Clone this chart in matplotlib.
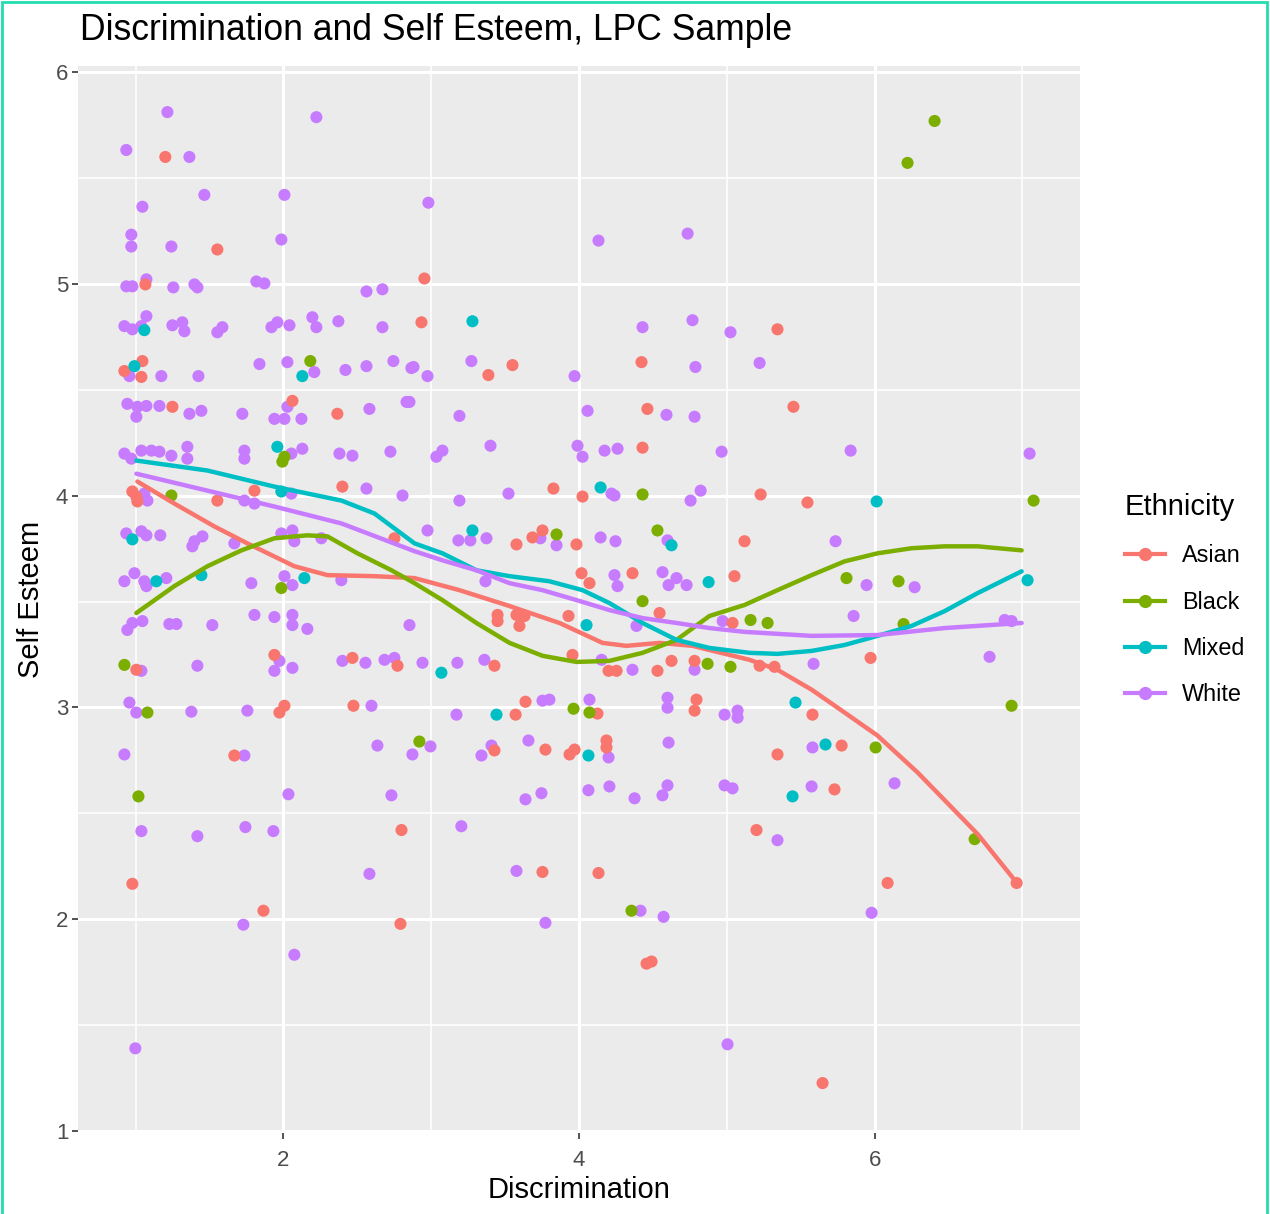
import matplotlib
matplotlib.use("Agg")
import matplotlib.pyplot as plt
from matplotlib.lines import Line2D
from matplotlib.patches import Rectangle
from matplotlib.ticker import MultipleLocator

plt.rcParams['font.family'] = ['Liberation Sans', 'DejaVu Sans']

groups = ['Asian', 'Black', 'Mixed', 'White']
colors = {'Asian': '#F8766D', 'Black': '#7CAE00', 'Mixed': '#00BFC4', 'White': '#C77CFF'}

# scatter data (Discrimination, Self Esteem)
asian_x = [1.201, 1.553, 1.066, 2.954, 2.934, 0.924, 1.046, 1.039, 3.387, 3.550, 4.423, 1.249,
           2.061, 2.365, 4.463, 5.343, 5.451, 0.978, 1.005, 1.012, 1.553, 1.804, 2.399, 2.751,
           1.005, 1.939, 2.467, 2.772, 1.973, 2.007, 2.474, 1.668, 4.430, 3.827, 4.024, 3.577,
           3.685, 3.753, 3.983, 5.120, 4.017, 4.071, 4.362, 5.052, 3.449, 3.449, 3.577, 3.597,
           3.631, 3.929, 4.545, 5.039, 3.428, 3.956, 4.200, 4.254, 4.531, 4.626, 4.782, 3.638,
           4.125, 3.571, 4.795, 4.782, 3.428, 3.773, 3.936, 3.970, 4.186, 4.186, 5.229, 5.546,
           5.973, 5.222, 5.323, 5.580, 5.777, 5.343, 2.799, 0.978, 1.865, 2.792, 3.753, 4.132,
           4.457, 4.491, 5.729, 5.201, 6.088, 6.961, 5.648]
asian_y = [5.600, 5.163, 4.998, 5.026, 4.819, 4.589, 4.636, 4.561, 4.570, 4.617, 4.631, 4.420,
           4.448, 4.387, 4.410, 4.786, 4.420, 4.020, 3.996, 3.973, 3.977, 4.024, 4.043, 3.799,
           3.178, 3.248, 3.234, 3.197, 2.976, 3.008, 3.008, 2.773, 4.227, 4.034, 3.996, 3.770,
           3.803, 3.836, 3.770, 3.785, 3.634, 3.587, 3.634, 3.620, 3.437, 3.408, 3.437, 3.385,
           3.432, 3.432, 3.446, 3.399, 3.197, 3.248, 3.173, 3.173, 3.173, 3.220, 3.220, 3.027,
           2.971, 2.966, 3.037, 2.985, 2.797, 2.801, 2.778, 2.801, 2.844, 2.811, 4.006, 3.968,
           3.234, 3.197, 3.192, 2.966, 2.820, 2.778, 2.421, 2.167, 2.040, 1.978, 2.223, 2.218,
           1.790, 1.800, 2.613, 2.421, 2.171, 2.171, 1.226]

black_x = [6.406, 6.223, 2.182, 1.993, 2.007, 1.242, 1.986, 0.924, 1.080, 1.019, 3.848, 4.430,
           4.531, 4.430, 4.870, 5.025, 3.963, 4.071, 2.920, 4.355, 5.161, 5.276, 5.810, 6.162,
           6.196, 7.076, 6.927, 6.007, 6.677]
black_y = [5.770, 5.572, 4.636, 4.161, 4.184, 4.001, 3.564, 3.201, 2.976, 2.580, 3.817, 4.006,
           3.836, 3.502, 3.206, 3.192, 2.994, 2.976, 2.839, 2.040, 3.413, 3.399, 3.611, 3.596,
           3.394, 3.977, 3.008, 2.811, 2.378]

mixed_x = [1.059, 0.992, 2.128, 3.279, 1.959, 1.986, 0.978, 1.140, 1.445, 2.142, 4.146, 3.279,
           4.626, 4.877, 3.069, 4.051, 3.442, 4.064, 6.014, 7.035, 5.465, 5.668, 5.445]
mixed_y = [4.782, 4.612, 4.565, 4.824, 4.231, 4.020, 3.794, 3.596, 3.625, 3.611, 4.039, 3.836,
           3.766, 3.592, 3.164, 3.389, 2.966, 2.773, 3.973, 3.601, 3.023, 2.825, 2.580]

white_x = [1.215, 2.223, 0.937, 1.364, 1.465, 2.007, 1.046, 0.971, 0.971, 1.242, 1.986, 2.981,
           4.132, 4.735, 0.937, 0.978, 1.073, 1.255, 1.398, 1.418, 1.817, 1.871, 2.562, 2.670,
           0.924, 0.978, 1.039, 1.073, 1.249, 1.316, 1.330, 1.553, 1.587, 1.919, 1.959, 2.041,
           2.196, 2.223, 2.372, 2.670, 0.958, 1.174, 1.425, 1.838, 2.027, 2.209, 2.420, 2.562,
           2.744, 2.866, 0.944, 1.012, 1.073, 1.161, 1.364, 1.445, 1.722, 2.027, 2.582, 2.833,
           2.880, 2.975, 3.272, 3.970, 4.430, 4.768, 5.025, 4.788, 2.853, 3.191, 4.058, 4.592,
           4.782, 5.222, 1.005, 1.939, 2.007, 2.122,
           0.924, 0.971, 1.039, 1.107, 1.161, 1.242, 1.350, 1.350, 1.736, 1.736, 2.054, 2.128,
           2.379, 2.467, 2.724, 3.035, 3.076, 3.401, 3.990, 4.024, 4.173, 4.261, 4.965, 5.838,
           7.049,
           1.059, 1.080, 1.736, 1.804, 2.054, 2.562, 2.806, 3.191, 3.523, 4.220, 4.240, 4.755,
           4.823,
           0.937, 1.039, 1.073, 1.167, 1.398, 1.452, 1.384, 1.668, 1.986, 2.061, 2.074, 2.257,
           2.975, 3.184, 3.265, 3.374, 3.739, 3.848, 4.146, 4.247, 4.599, 5.736,
           0.924, 0.992, 1.059, 1.073, 1.208, 1.783, 2.007, 2.061, 2.392, 3.367, 4.240, 4.261,
           4.565, 4.606, 4.728, 4.660, 5.946, 6.271,
           0.944, 0.978, 1.046, 1.228, 1.276, 1.519, 1.804, 1.939, 2.061, 2.061, 2.162, 2.853,
           4.389, 4.972, 5.858, 6.880, 6.927,
           1.039, 1.418, 1.973, 1.939, 2.061, 2.399, 2.555, 2.684, 2.751, 2.941, 3.177, 3.360,
           4.153, 4.362, 4.782, 5.587, 6.778,
           0.958, 1.005, 1.377, 1.756, 2.596, 3.171, 3.753, 3.800, 4.071, 4.599, 4.599, 4.985,
           5.073, 5.073,
           0.924, 1.736, 2.636, 2.995, 2.873, 3.340, 3.408, 3.658, 4.200, 4.606, 5.580,
           2.034, 2.731, 3.638, 3.746, 4.064, 4.206, 4.376, 4.565, 4.599, 4.985, 5.039, 5.574,
           6.135, 5.343,
           1.039, 1.418, 1.743, 1.932, 2.582, 1.729, 2.074, 0.998, 3.204, 3.577, 3.773, 4.416,
           4.572, 5.005, 5.980]
white_y = [5.812, 5.788, 5.633, 5.600, 5.421, 5.421, 5.365, 5.233, 5.177, 5.177, 5.210, 5.384,
           5.205, 5.238, 4.989, 4.989, 5.022, 4.984, 4.998, 4.984, 5.012, 5.003, 4.965, 4.975,
           4.801, 4.786, 4.801, 4.848, 4.805, 4.819, 4.777, 4.772, 4.796, 4.796, 4.819, 4.805,
           4.843, 4.796, 4.824, 4.796, 4.565, 4.565, 4.565, 4.622, 4.631, 4.584, 4.594, 4.612,
           4.636, 4.603, 4.434, 4.420, 4.424, 4.424, 4.387, 4.401, 4.387, 4.420, 4.410, 4.443,
           4.608, 4.565, 4.636, 4.565, 4.796, 4.829, 4.772, 4.608, 4.443, 4.377, 4.401, 4.382,
           4.373, 4.627, 4.373, 4.363, 4.363, 4.363,
           4.199, 4.175, 4.213, 4.213, 4.208, 4.189, 4.231, 4.175, 4.213, 4.175, 4.199, 4.222,
           4.199, 4.189, 4.208, 4.184, 4.213, 4.236, 4.236, 4.184, 4.213, 4.222, 4.208, 4.213,
           4.199,
           4.010, 3.977, 3.977, 3.963, 4.010, 4.034, 4.001, 3.977, 4.010, 4.010, 4.001, 3.977,
           4.024,
           3.822, 3.832, 3.813, 3.813, 3.785, 3.808, 3.761, 3.775, 3.822, 3.836, 3.785, 3.799,
           3.836, 3.789, 3.789, 3.799, 3.799, 3.766, 3.803, 3.785, 3.789, 3.785,
           3.596, 3.634, 3.596, 3.573, 3.611, 3.587, 3.620, 3.578, 3.601, 3.596, 3.625, 3.573,
           3.639, 3.578, 3.578, 3.611, 3.578, 3.568,
           3.366, 3.399, 3.408, 3.394, 3.394, 3.389, 3.437, 3.427, 3.437, 3.389, 3.371, 3.389,
           3.385, 3.408, 3.432, 3.413, 3.408,
           3.173, 3.197, 3.220, 3.173, 3.187, 3.220, 3.211, 3.225, 3.234, 3.211, 3.211, 3.225,
           3.225, 3.178, 3.178, 3.206, 3.239,
           3.023, 2.976, 2.980, 2.985, 3.008, 2.966, 3.032, 3.037, 3.037, 3.046, 2.999, 2.966,
           2.985, 2.952,
           2.778, 2.773, 2.820, 2.816, 2.778, 2.773, 2.820, 2.844, 2.764, 2.834, 2.811,
           2.590, 2.585, 2.566, 2.595, 2.609, 2.627, 2.571, 2.585, 2.632, 2.632, 2.618, 2.627,
           2.642, 2.373,
           2.416, 2.392, 2.435, 2.416, 2.214, 1.974, 1.832, 1.390, 2.439, 2.228, 1.983, 2.040,
           2.011, 1.409, 2.030]

# smoothed trend lines
asian_fit_x = [1.012, 1.262, 1.533, 1.756, 2.074, 2.298, 2.616, 2.887, 3.191, 3.530, 3.868, 4.159,
               4.321, 4.545, 4.768, 5.154, 5.343, 5.574, 5.797, 6.020, 6.291, 6.474, 6.697, 6.968]
asian_fit_y = [4.067, 3.963, 3.855, 3.775, 3.667, 3.625, 3.620, 3.611, 3.554, 3.479, 3.399, 3.305,
               3.291, 3.305, 3.291, 3.225, 3.178, 3.084, 2.976, 2.867, 2.693, 2.562, 2.402, 2.167]
black_fit_x = [1.005, 1.262, 1.486, 1.716, 1.939, 2.162, 2.298, 2.501, 2.731, 2.887, 3.076, 3.306,
               3.530, 3.753, 3.983, 4.206, 4.430, 4.660, 4.883, 5.120, 5.343, 5.574, 5.797, 6.020,
               6.250, 6.474, 6.697, 6.995]
black_fit_y = [3.446, 3.573, 3.667, 3.742, 3.799, 3.813, 3.808, 3.728, 3.648, 3.587, 3.507, 3.399,
               3.305, 3.244, 3.215, 3.220, 3.258, 3.319, 3.432, 3.484, 3.554, 3.625, 3.690, 3.728,
               3.752, 3.761, 3.761, 3.742]
mixed_fit_x = [1.005, 1.486, 1.939, 2.393, 2.616, 2.887, 3.076, 3.306, 3.530, 3.800, 4.024, 4.206,
               4.430, 4.660, 4.883, 5.154, 5.343, 5.574, 5.797, 6.020, 6.250, 6.474, 6.697, 6.995]
mixed_fit_y = [4.166, 4.119, 4.043, 3.977, 3.916, 3.775, 3.728, 3.648, 3.620, 3.596, 3.554, 3.493,
               3.399, 3.319, 3.281, 3.258, 3.253, 3.267, 3.295, 3.338, 3.385, 3.455, 3.540, 3.643]
white_fit_x = [1.005, 1.486, 1.939, 2.393, 2.887, 3.076, 3.306, 3.530, 3.753, 3.983, 4.206, 4.430,
               4.660, 4.883, 5.120, 5.574, 6.020, 6.474, 6.995]
white_fit_y = [4.104, 4.024, 3.949, 3.869, 3.738, 3.695, 3.648, 3.587, 3.554, 3.507, 3.460, 3.422,
               3.399, 3.375, 3.357, 3.338, 3.342, 3.375, 3.399]

points = {'Asian': (asian_x, asian_y), 'Black': (black_x, black_y),
          'Mixed': (mixed_x, mixed_y), 'White': (white_x, white_y)}
fits = {'Asian': (asian_fit_x, asian_fit_y), 'Black': (black_fit_x, black_fit_y),
        'Mixed': (mixed_fit_x, mixed_fit_y), 'White': (white_fit_x, white_fit_y)}

fig = plt.figure(figsize=(12.7, 12.14), dpi=100)
ax = fig.add_axes([0.0614, 0.0667, 0.789, 0.879])
ax.set_facecolor('#EBEBEB')
for s in ax.spines.values():
    s.set_visible(False)

ax.set_xlim(0.61, 7.39)
ax.set_ylim(0.99, 6.03)
ax.xaxis.set_major_locator(MultipleLocator(2))
ax.xaxis.set_minor_locator(MultipleLocator(1))
ax.yaxis.set_major_locator(MultipleLocator(1))
ax.yaxis.set_minor_locator(MultipleLocator(0.5))
ax.grid(which='major', color='white', lw=2.2)
ax.grid(which='minor', color='white', lw=1.1)
ax.set_axisbelow(True)
ax.tick_params(which='major', length=4, width=1.2, color='#333333',
               labelcolor='#4D4D4D', labelsize=16, pad=3)
ax.tick_params(axis='x', which='major', pad=8)
ax.tick_params(which='minor', length=0)

for g in ['White', 'Asian', 'Black', 'Mixed']:
    xs, ys = points[g]
    ax.scatter(xs, ys, s=76, color=colors[g], edgecolors='none', zorder=3)

for g in groups:
    xs, ys = fits[g]
    ax.plot(xs, ys, color=colors[g], lw=3.2, zorder=4, solid_capstyle='round',
            solid_joinstyle='round')

ax.set_xlabel('Discrimination', fontsize=21, labelpad=4)
ax.set_ylabel('Self Esteem', fontsize=21, labelpad=8)
fig.text(0.063, 1 - 31 / 1214, 'Discrimination and Self Esteem, LPC Sample',
         fontsize=25.6, ha='left', va='center')

handles = [Line2D([], [], color=colors[g], lw=3, marker='o', markersize=8.5) for g in groups]
leg = fig.legend(handles, groups, title='Ethnicity', loc='upper left',
                 bbox_to_anchor=(1104 / 1270, 1 - 472 / 1214), frameon=False,
                 fontsize=16.8, title_fontsize=21, handlelength=1.7,
                 handletextpad=0.75, labelspacing=1.0)
leg._legend_box.align = 'left'

fig.patches.append(Rectangle((2 / 1270, -0.01), 1265 / 1270, 1.0 - 2 / 1214 + 0.01,
                             transform=fig.transFigure, fill=False,
                             edgecolor='#22DDB0', lw=2))

fig.savefig('out.png', dpi=100)
